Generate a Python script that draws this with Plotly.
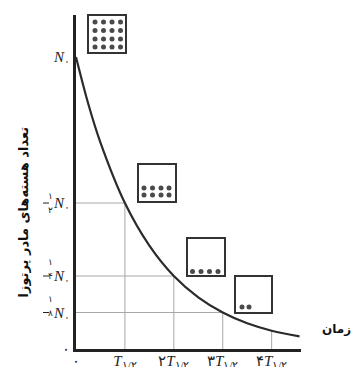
import plotly.graph_objects as go

# ---- data ----
half_lives = [0, 0.25, 0.5, 1, 1.5, 2, 2.5, 3, 3.5, 4, 4.57]
remaining = [1.0, 0.84, 0.707, 0.5, 0.354, 0.25, 0.177, 0.125, 0.088, 0.0625, 0.043]

guide_t = [1, 2, 3, 4]
guide_n = [0.5, 0.25, 0.125, 0.0625]
h_guides = [(0.5, 1), (0.25, 2), (0.125, 3)]

x_tickvals = [0, 1, 2, 3, 4]
x_ticktext = ["۰", "<i>T</i><sub>۱/۲</sub>", "۲<i>T</i><sub>۱/۲</sub>",
              "۳<i>T</i><sub>۱/۲</sub>", "۴<i>T</i><sub>۱/۲</sub>"]
y_tickvals = [0, 0.125, 0.25, 0.5, 1.0]
y_ticktext = ["۰", "<i>N</i><sub>۰</sub>", "<i>N</i><sub>۰</sub>",
              "<i>N</i><sub>۰</sub>", "<i>N</i><sub>۰</sub>"]
fractions = [(0.5, "۲"), (0.25, "۴"), (0.125, "۸")]

y_title = "تعداد هسته‌های مادر پرتوزا"
x_title = "زمان"

# ---- layout geometry ----
W, H = 355, 367
L, R, T, B = 76, 54, 15, 18
PW, PH = W - L - R, H - T - B
XMAX, YMAX = 4.6, 1.144


def px2x(px):
    return (px - L) / PW * XMAX


def py2y(py):
    return (H - B - py) / PH * YMAX


def px2p(px):
    return (px - L) / PW


def py2p(py):
    return (H - B - py) / PH


fig = go.Figure()

shapes = []
for n, t in h_guides:
    shapes.append(dict(type="line", xref="x", yref="y", x0=0, x1=t, y0=n, y1=n,
                       line=dict(color="#a8a8a8", width=1), layer="below"))
for t, n in zip(guide_t, guide_n):
    shapes.append(dict(type="line", xref="x", yref="y", x0=t, x1=t, y0=0, y1=n,
                       line=dict(color="#a8a8a8", width=1), layer="below"))

fig.add_trace(go.Scatter(x=half_lives, y=remaining, mode="lines",
                         line=dict(color="#2b2b2b", width=2.2, shape="spline"),
                         hoverinfo="skip", showlegend=False))

# inset boxes with nuclei dots (pixel placement)
boxes = [
    dict(left=88, top=15, size=38,
         dots=[(dx, dy) for dy in (7, 15.5, 24, 32) for dx in (7, 15.5, 24, 32.5)]),
    dict(left=138, top=164, size=38,
         dots=[(dx, dy) for dy in (24, 31) for dx in (6, 14.5, 23, 31)]),
    dict(left=187, top=238, size=38,
         dots=[(dx, 33.5) for dx in (5.5, 14, 22.5, 31)]),
    dict(left=235, top=276, size=37,
         dots=[(7, 31), (14, 31)]),
]
dot_x, dot_y = [], []
for b in boxes:
    shapes.append(dict(type="rect", xref="paper", yref="paper",
                       x0=px2p(b["left"]), x1=px2p(b["left"] + b["size"]),
                       y0=py2p(b["top"] + b["size"]), y1=py2p(b["top"]),
                       line=dict(color="#333333", width=2), fillcolor="white",
                       layer="below"))
    for dx, dy in b["dots"]:
        dot_x.append(px2x(b["left"] + dx))
        dot_y.append(py2y(b["top"] + dy))

fig.add_trace(go.Scatter(x=dot_x, y=dot_y, mode="markers",
                         marker=dict(color="#4a4a4a", size=5),
                         hoverinfo="skip", showlegend=False, cliponaxis=False))

annotations = []
for n, den in fractions:
    ypaper = n / YMAX
    annotations.append(dict(text="۱", xref="paper", yref="paper", x=px2p(46), y=ypaper,
                            yshift=7, showarrow=False,
                            font=dict(size=9, color="#222", family="DejaVu Sans")))
    annotations.append(dict(text=den, xref="paper", yref="paper", x=px2p(46), y=ypaper,
                            yshift=-7, showarrow=False,
                            font=dict(size=9, color="#222", family="DejaVu Sans")))
    shapes.append(dict(type="line", xref="paper", yref="paper",
                       x0=px2p(43), x1=px2p(49), y0=ypaper, y1=ypaper,
                       line=dict(color="#222", width=1)))

annotations.append(dict(text="<b>" + y_title + "</b>", xref="paper", yref="paper",
                        x=px2p(14), y=py2p(212), textangle=-90, showarrow=False,
                        font=dict(size=13, color="#111", family="DejaVu Sans")))
annotations.append(dict(text="<b>" + x_title + "</b>", xref="paper", yref="paper",
                        x=px2p(353), y=py2p(338), xanchor="right", showarrow=False,
                        font=dict(size=12, color="#111", family="DejaVu Sans")))

fig.update_layout(
    width=W, height=H,
    margin=dict(l=L, r=R, t=T, b=B, autoexpand=False),
    paper_bgcolor="white", plot_bgcolor="white",
    shapes=shapes, annotations=annotations,
    showlegend=False,
    xaxis=dict(range=[0, XMAX], showgrid=False, zeroline=False, automargin=False,
               showline=True, linecolor="#222", linewidth=2.5,
               tickvals=x_tickvals, ticktext=x_ticktext, ticks="",
               ticklabelstandoff=-4,
               tickfont=dict(size=15, color="#222", family="Liberation Serif")),
    yaxis=dict(range=[0, YMAX], showgrid=False, zeroline=False, automargin=False,
               showline=True, linecolor="#222", linewidth=3,
               tickvals=y_tickvals, ticktext=y_ticktext, ticks="",
               tickfont=dict(size=15, color="#222", family="Liberation Serif")),
)

fig.write_html("out.html", config={"displayModeBar": False},
               post_script="document.body.style.margin='0';document.body.style.overflow='hidden';")
